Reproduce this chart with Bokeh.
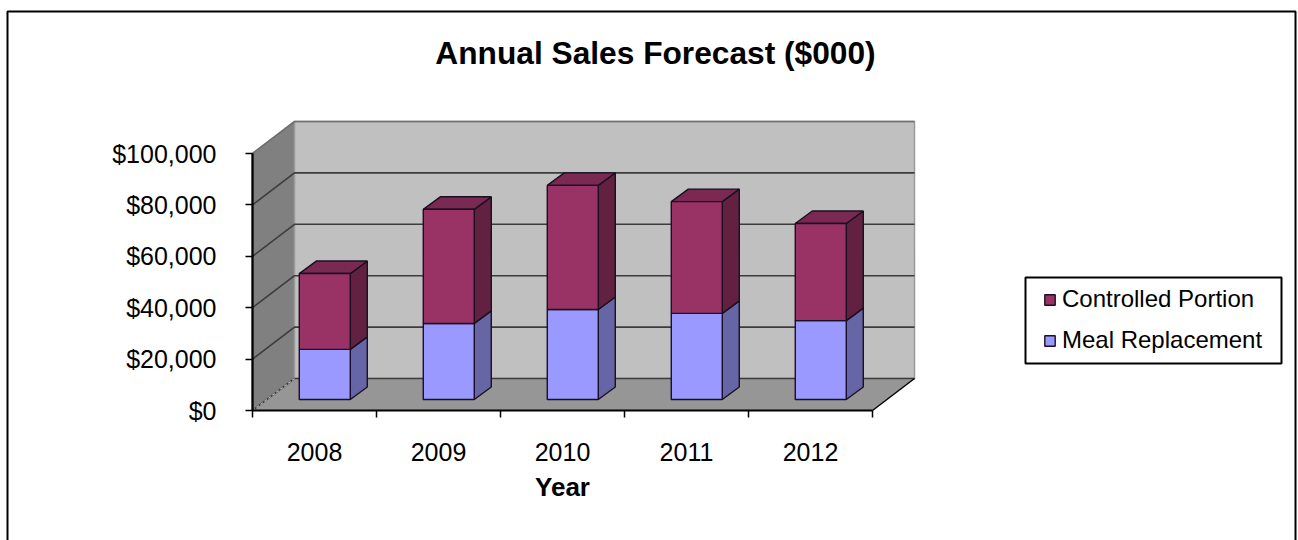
from bokeh.embed import file_html
from bokeh.models import FixedTicker, Label, Legend, LegendItem, NumeralTickFormatter
from bokeh.plotting import figure
from bokeh.resources import INLINE

years = ["2008", "2009", "2010", "2011", "2012"]
meal_replacement = [19500, 29600, 35000, 33500, 30700]
controlled_portion = [29500, 44400, 48300, 43500, 37800]
y_ticks = [0, 20000, 40000, 60000, 80000, 100000]

# pixel scales of the plotting frame
FRAME_L, FRAME_R, FRAME_T, FRAME_B = 7, 1295, 11, 540
X0_PX, UNIT_X = 252.0, 124.0
Y0_PX, UNIT_Y = 410.0, 257.0 / 100000


def xpx(px):
    return (px - X0_PX) / UNIT_X + 0.5


def ypx(py):
    return (Y0_PX - py) / UNIT_Y


p = figure(width=1298, height=540, output_backend="svg", toolbar_location=None,
           x_range=(xpx(0), xpx(1298)), y_range=(ypx(540), ypx(0)),
           min_border_left=0, min_border_right=0, min_border_top=0, min_border_bottom=0)
p.grid.visible = False
p.background_fill_color = "white"
p.border_fill_color = "white"
p.outline_line_color = None

# outer chart border, open at the lower edge of the page
p.line([xpx(FRAME_L)] * 2 + [xpx(FRAME_R)] * 2,
       [ypx(FRAME_B), ypx(FRAME_T), ypx(FRAME_T), ypx(FRAME_B)],
       line_color="black", line_width=2)

# depth of the box and of the columns standing in it
WALL_DX, WALL_DY = 42 / UNIT_X, 32 / UNIT_Y
BAR_OFF_DX, BAR_OFF_DY = 14 / UNIT_X, 11 / UNIT_Y
BAR_DX, BAR_DY = 17 / UNIT_X, 12.5 / UNIT_Y
BAR_W = 51 / UNIT_X

x_left, x_right = 0.5, 5.5
y_top = y_ticks[-1]

# floor, side wall and back wall
p.patch([x_left, x_right, x_right + WALL_DX, x_left + WALL_DX], [0, 0, WALL_DY, WALL_DY],
        fill_color="#969696", line_color=None)
p.patch([x_left, x_left + WALL_DX, x_left + WALL_DX, x_left], [0, WALL_DY, y_top + WALL_DY, y_top],
        fill_color="#808080", line_color=None)
p.quad(left=x_left + WALL_DX, right=x_right + WALL_DX, bottom=WALL_DY, top=y_top + WALL_DY,
       fill_color="#C0C0C0", line_color="#9a9a9a", line_width=1.5)

# gridlines run along the side wall and across the back wall
for t in y_ticks:
    colour = "#6e6e6e" if t == y_top else "#3c3c3c"
    p.line([x_left, x_left + WALL_DX, x_right + WALL_DX], [t, t + WALL_DY, t + WALL_DY],
           line_color=colour, line_width=1.6)
p.line([x_left, x_left + WALL_DX], [0, WALL_DY], line_color="#b4b4b4", line_width=1.2, line_dash="3 2")
p.line([x_right, x_right + WALL_DX], [0, WALL_DY], line_color="black", line_width=1.4)
p.line([x_left, x_left], [0, y_top], line_color="black", line_width=1.6)


def column(i, low, high, front, side, top=None):
    """One stacked segment: its side face, optional top face, then its front."""
    left = i + 1 - 0.5 + (0.5 - BAR_W / 2) + BAR_OFF_DX - 0.03
    right = left + BAR_W
    b, t = low + BAR_OFF_DY, high + BAR_OFF_DY
    p.patch([right, right + BAR_DX, right + BAR_DX, right], [b, b + BAR_DY, t + BAR_DY, t],
            fill_color=side, line_color="#1a1020", line_width=1.4)
    if top:
        p.patch([left, left + BAR_DX, right + BAR_DX, right], [t, t + BAR_DY, t + BAR_DY, t],
                fill_color=top, line_color="#1a1020", line_width=1.4)
    return p.quad(left=left, right=right, bottom=b, top=t, fill_color=front,
                  line_color="#1a1020", line_width=1.4)


meal_r = controlled_r = None
for i, (m, c) in enumerate(zip(meal_replacement, controlled_portion)):
    meal_r = column(i, 0, m, "#9999FF", "#6666A6")
    controlled_r = column(i, m, m + c, "#993366", "#632141", "#7A2952")

# axes sit inside the frame at the front edge of the box
xaxis = p.xaxis[0]
xaxis.fixed_location = 0
xaxis.bounds = (x_left, x_right)
xaxis.ticker = FixedTicker(ticks=[1, 2, 3, 4, 5], minor_ticks=[0.5, 1.5, 2.5, 3.5, 4.5, 5.5])
xaxis.major_label_overrides = {i + 1: y for i, y in enumerate(years)}
xaxis.major_tick_in = 0
xaxis.major_tick_out = 0
xaxis.minor_tick_in = 0
xaxis.minor_tick_out = 7
xaxis.minor_tick_line_color = "black"
xaxis.minor_tick_line_width = 1.5
xaxis.axis_line_color = "black"
xaxis.axis_line_width = 2
xaxis.major_label_text_font = "Liberation Sans"
xaxis.major_label_text_font_size = "25px"
xaxis.major_label_text_color = "black"
xaxis.major_label_standoff = 25
xaxis.axis_label = "Year"
xaxis.axis_label_text_font = "Liberation Sans"
xaxis.axis_label_text_font_style = "bold"
xaxis.axis_label_text_font_size = "26px"
xaxis.axis_label_text_color = "black"
xaxis.axis_label_standoff = 8

yaxis = p.yaxis[0]
yaxis.fixed_location = x_left
yaxis.bounds = (0, y_top)
yaxis.ticker = FixedTicker(ticks=y_ticks)
yaxis.formatter = NumeralTickFormatter(format="$0,0")
yaxis.major_tick_in = 0
yaxis.major_tick_out = 7
yaxis.minor_tick_line_color = None
yaxis.major_tick_line_width = 1.5
yaxis.axis_line_width = 2
yaxis.axis_line_color = "black"
yaxis.major_label_text_font = "Liberation Sans"
yaxis.major_label_text_font_size = "25px"
yaxis.major_label_text_color = "black"
yaxis.major_label_standoff = 29

title = Label(x=xpx(655), y=ypx(52), text="Annual Sales Forecast ($000)", text_align="center",
              text_baseline="middle", text_font="Liberation Sans", text_font_style="bold",
              text_font_size="31.7px", text_color="black")
p.add_layout(title)

# legend box drawn behind a borderless legend so the swatches can sit well inside it
p.quad(left=xpx(1025), right=xpx(1281), top=ypx(277), bottom=ypx(363),
       fill_color="white", line_color="black", line_width=2)
legend = Legend(items=[LegendItem(label="Controlled Portion", renderers=[controlled_r]),
                       LegendItem(label="Meal Replacement", renderers=[meal_r])],
                location=(1043, 186),
                orientation="vertical", glyph_width=13, glyph_height=13,
                label_text_font="Liberation Sans", label_text_font_size="24px",
                label_text_color="black", label_standoff=6,
                margin=0, spacing=13, border_line_color=None,
                background_fill_alpha=0)
p.add_layout(legend)

open("out.html", "w").write(file_html(p, INLINE))
